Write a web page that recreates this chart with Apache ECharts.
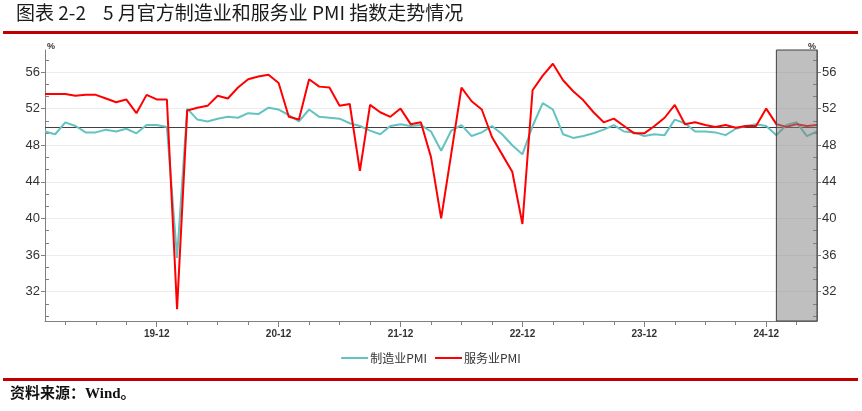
<!DOCTYPE html>
<html><head><meta charset="utf-8">
<script src="https://cdn.jsdelivr.net/npm/echarts@6/dist/echarts.min.js"></script>
<style>html,body{margin:0;padding:0;background:#fff}#c{width:862px;height:411px}</style>
</head><body><div id="c"></div>
<script>
// ---- data ----
const months = [
 '2019-01','2019-02','2019-03','2019-04','2019-05','2019-06','2019-07','2019-08','2019-09','2019-10','2019-11','2019-12',
 '2020-01','2020-02','2020-03','2020-04','2020-05','2020-06','2020-07','2020-08','2020-09','2020-10','2020-11','2020-12',
 '2021-01','2021-02','2021-03','2021-04','2021-05','2021-06','2021-07','2021-08','2021-09','2021-10','2021-11','2021-12',
 '2022-01','2022-02','2022-03','2022-04','2022-05','2022-06','2022-07','2022-08','2022-09','2022-10','2022-11','2022-12',
 '2023-01','2023-02','2023-03','2023-04','2023-05','2023-06','2023-07','2023-08','2023-09','2023-10','2023-11','2023-12',
 '2024-01','2024-02','2024-03','2024-04','2024-05','2024-06','2024-07','2024-08','2024-09','2024-10','2024-11','2024-12',
 '2025-01','2025-02','2025-03','2025-04','2025-05'
];
const tickLabels = ['19-12','20-12','21-12','22-12','23-12','24-12'];
const manufacturingPMI = [
 49.5,49.2,50.5,50.1,49.4,49.4,49.7,49.5,49.8,49.3,50.2,50.2,
 50.0,35.7,52.0,50.8,50.6,50.9,51.1,51.0,51.5,51.4,52.1,51.9,
 51.3,50.6,51.9,51.1,51.0,50.9,50.4,50.1,49.6,49.2,50.1,50.3,
 50.1,50.2,49.5,47.4,49.6,50.2,49.0,49.4,50.1,49.2,48.0,47.0,
 50.1,52.6,51.9,49.2,48.8,49.0,49.3,49.7,50.2,49.5,49.4,49.0,
 49.2,49.1,50.8,50.4,49.5,49.5,49.4,49.1,49.8,50.1,50.3,50.1,
 49.1,50.2,50.5,49.0,49.5
];
const servicesPMI = [
 53.6,53.6,53.6,53.4,53.5,53.5,53.1,52.7,53.0,51.5,53.5,53.0,
 53.0,30.1,51.8,52.1,52.3,53.4,53.1,54.3,55.2,55.5,55.7,54.8,
 51.1,50.8,55.2,54.4,54.3,52.3,52.5,45.2,52.4,51.6,51.1,52.0,
 50.3,50.5,46.7,40.0,47.1,54.3,52.8,51.9,48.9,47.0,45.1,39.4,
 54.0,55.6,56.9,55.1,53.9,52.9,51.6,50.5,50.9,50.1,49.3,49.3,
 50.1,51.0,52.4,50.3,50.5,50.2,50.0,50.2,49.9,50.1,50.1,52.0,
 50.3,50.0,50.3,50.1,50.2
];
const yTickValues = [32,36,40,44,48,52,56];
const yMinorValues = [29.33,30.67,33.33,34.67,37.33,38.67,41.33,42.67,45.33,46.67,49.33,50.67,53.33,54.67,57.33];
const shadeFrom = '2025-01', shadeTo = '2025-05';
const refLevel = 50;
const seriesNames = ['制造业PMI','服务业PMI'];

// ---- chart ----
const chart = echarts.init(document.getElementById('c'), null, {renderer:'canvas'});
const Y_MIN = 28.8, Y_MAX = 58.4;
const axisGray = '#808080';
const numFont = 'Liberation Sans';
function yAxisDef(pos, major) {
  return {
    type:'value', position:pos, min:Y_MIN, max:Y_MAX,
    axisLine:{show:major, lineStyle:{color:axisGray, width:1}},
    axisTick:{show:true, inside:!major, length:4, customValues: major ? yTickValues : yMinorValues,
              lineStyle:{color:axisGray}},
    axisLabel:{show:major, customValues:yTickValues, color:'#333', fontSize:13, fontFamily:numFont, margin:5},
    splitLine:{show: major && pos==='left', lineStyle:{color:'#ececec', width:1}}
  };
}
const option = {
  animation:false,
  backgroundColor:'#fff',
  grid:{left:45, right:45, top:50, bottom:90, containLabel:false},
  xAxis:[
    {type:'category', data:months, boundaryGap:false, position:'bottom',
     axisLine:{lineStyle:{color:axisGray, width:1}},
     axisTick:{interval:(i,v)=>Number(months[i].slice(5))%3===0, length:4, lineStyle:{color:axisGray}},
     axisLabel:{interval:(i,v)=>tickLabels.indexOf(v.slice(2))>=0, formatter:v=>v.slice(2),
                color:'#333', fontSize:10, fontWeight:'bold', fontFamily:numFont, margin:8},
     splitLine:{show:false}},
    {type:'category', data:months, boundaryGap:false, position:'bottom',
     axisLine:{show:false}, axisLabel:{show:false}, splitLine:{show:false},
     axisTick:{interval:(i,v)=>tickLabels.indexOf(months[i].slice(2))>=0, length:6, lineStyle:{color:axisGray}}}
  ],
  yAxis:[ yAxisDef('left',true), yAxisDef('left',false), yAxisDef('right',true), yAxisDef('right',false) ],
  legend:{
    data:seriesNames, left:'center', top:347, icon:'rect', itemWidth:27, itemHeight:2, itemGap:8,
    textStyle:{fontSize:12, color:'#333', fontFamily:'Noto Sans CJK SC', padding:[0,0,0,-3]}
  },
  series:[
    {name:seriesNames[0], type:'line', data:manufacturingPMI, symbol:'none', z:3,
     lineStyle:{color:'#63c2c2', width:2}, itemStyle:{color:'#63c2c2'},
     markLine:{silent:true, symbol:'none', z:2, label:{show:false},
       lineStyle:{color:'#404040', width:1, type:'solid'}, data:[{yAxis:refLevel}]}},
    {name:seriesNames[1], type:'line', data:servicesPMI, symbol:'none', z:4,
     lineStyle:{color:'#ff0000', width:2}, itemStyle:{color:'#ff0000'},
     markArea:{silent:true, z:10, itemStyle:{color:'rgba(128,128,128,0.5)', borderColor:'#404040', borderWidth:1},
       data:[[{xAxis:shadeFrom},{xAxis:shadeTo}]]}}
  ],
  graphic:[
    {type:'text', left:16, top:3, style:{text:'图表 2-2    5 月官方制造业和服务业 PMI 指数走势情况', fontSize:19,
       fontFamily:'Noto Sans CJK SC', fill:'#1a1a1a'}},
    {type:'rect', shape:{x:3, y:31, width:855, height:3}, style:{fill:'#c00000'}},
    {type:'text', left:47, top:42, style:{text:'%', fontSize:9, fontWeight:'bold', fontFamily:numFont, fill:'#333'}},
    {type:'text', left:808, top:42, z:20, style:{text:'%', fontSize:9, fontWeight:'bold', fontFamily:numFont, fill:'#333'}},
    {type:'rect', shape:{x:3, y:378, width:855, height:3}, style:{fill:'#c00000'}},
    {type:'text', left:10, top:387, style:{text:'资料来源：Wind。', fontSize:15, fontWeight:'bold',
       fontFamily:'Liberation Serif, Noto Sans CJK SC', fill:'#111'}}
  ]
};
chart.setOption(option);
</script></body></html>
